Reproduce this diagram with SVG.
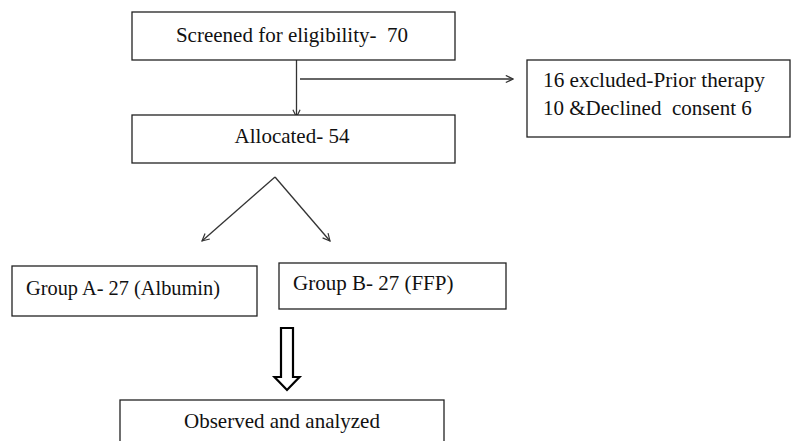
<svg xmlns="http://www.w3.org/2000/svg" width="791" height="441" viewBox="0 0 791 441">
<style>
.box{fill:#fff;stroke:#222;stroke-width:1.3}
.t{font-family:"Liberation Serif","Times New Roman",serif;font-size:21px;fill:#111;white-space:pre}
.c{stroke:#333;stroke-width:1.3;fill:none}
</style>
<defs>
<marker id="ah" viewBox="0 0 10 10" refX="9" refY="5" markerWidth="9" markerHeight="9" markerUnits="userSpaceOnUse" orient="auto">
<path d="M1,1 L9,5 L1,9" fill="none" stroke="#333" stroke-width="1.3"/>
</marker>
</defs>
<rect width="791" height="441" fill="#fff"/>
<g id="connectors">
<line class="c" x1="296.5" y1="60" x2="296.5" y2="117" marker-end="url(#ah)"/>
<line class="c" x1="300" y1="79" x2="513" y2="79" marker-end="url(#ah)"/>
<line class="c" x1="275" y1="177" x2="202" y2="241" marker-end="url(#ah)"/>
<line class="c" x1="275" y1="177" x2="330" y2="241" marker-end="url(#ah)"/>
<path d="M281,328 H293 V377 H299.5 L287,390 L274.5,377 H281 Z" fill="#fff" stroke="#000" stroke-width="2.2" stroke-linejoin="miter"/>
</g>
<g id="screened">
<rect class="box" x="132" y="12" width="323" height="48"/>
<text class="t" x="292" y="42" text-anchor="middle" xml:space="preserve">Screened for eligibility-  70</text>
</g>
<g id="excluded">
<rect class="box" x="527" y="60" width="263" height="77"/>
<text class="t" x="543" y="87" textLength="222" lengthAdjust="spacingAndGlyphs">16 excluded-Prior therapy</text>
<text class="t" x="543" y="115" xml:space="preserve">10 &amp;Declined  consent 6</text>
</g>
<g id="allocated">
<rect class="box" x="132" y="115" width="323" height="48"/>
<text class="t" x="292" y="143" text-anchor="middle">Allocated- 54</text>
</g>
<g id="groupA">
<rect class="box" x="12" y="266" width="245" height="50"/>
<text class="t" x="26" y="295" textLength="194" lengthAdjust="spacingAndGlyphs">Group A- 27 (Albumin)</text>
</g>
<g id="groupB">
<rect class="box" x="279" y="263" width="227" height="46"/>
<text class="t" x="293" y="290">Group B- 27 (FFP)</text>
</g>
<g id="observed">
<rect class="box" x="120" y="400" width="324" height="50"/>
<text class="t" x="282" y="428" text-anchor="middle">Observed and analyzed</text>
</g>
</svg>
